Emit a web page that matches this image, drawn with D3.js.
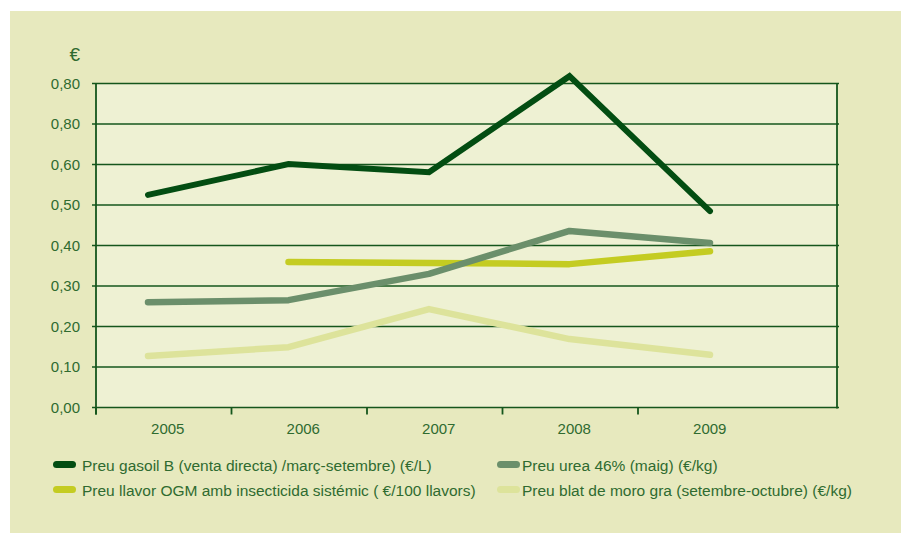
<!DOCTYPE html>
<html>
<head>
<meta charset="utf-8">
<script src="https://cdn.jsdelivr.net/npm/d3@7"></script>
<style>
  body { margin: 0; background: #fff; }
  svg { display: block; font-family: "Liberation Sans", Arial, sans-serif; }
</style>
</head>
<body>
<svg id="chart" width="901" height="533"></svg>
<script>
const years = ["2005", "2006", "2007", "2008", "2009"];
const yTicks = [0, 0.1, 0.2, 0.3, 0.4, 0.5, 0.6, 0.7, 0.8];
// the original repeats "0,80" for the 0.7 gridline
const yTickLabels = ["0,00", "0,10", "0,20", "0,30", "0,40", "0,50", "0,60", "0,80", "0,80"];

const gasoil = [0.525, 0.601, 0.581, 0.818, 0.485];
const urea = [0.260, 0.265, 0.330, 0.436, 0.406];
const llavor = [null, 0.359, 0.357, 0.354, 0.386];
const blat = [0.127, 0.149, 0.243, 0.169, 0.130];

const seriesNames = [
  "Preu gasoil B (venta directa) /març-setembre) (€/L)",
  "Preu urea 46% (maig) (€/kg)",
  "Preu llavor OGM amb insecticida sistémic ( €/100 llavors)",
  "Preu blat de moro gra (setembre-octubre) (€/kg)"
];
const seriesColors = ["#034d12", "#6b8f6b", "#c4cc22", "#dde39b"];
const seriesValues = [gasoil, urea, llavor, blat];

const svg = d3.select("#chart");
const textColor = "#2f6b30";
const gridColor = "#15561c";

// panel background
svg.append("rect").attr("x", 10).attr("y", 11).attr("width", 891).attr("height", 522)
  .attr("fill", "#e7e9be");

const plotL = 96, plotR = 837, plotT = 83.5, plotB = 407.5;

svg.append("rect").attr("x", plotL).attr("y", plotT).attr("width", plotR - plotL).attr("height", plotB - plotT)
  .attr("fill", "#eef1d3");

const y = d3.scaleLinear().domain([0, 0.8]).range([plotB, plotT]);
// category bands for the axis labels / ticks
const xBand = d3.scaleBand().domain(years).range([plotL, plotL + 135.5 * 5]);
// data points sit on their own positions in the original
const xPoint = d3.scalePoint().domain(years).range([148, 710]);

// gridlines
svg.append("g").selectAll("line").data(yTicks).join("line")
  .attr("x1", plotL - 4).attr("x2", plotR + 2)
  .attr("y1", d => y(d)).attr("y2", d => y(d))
  .attr("stroke", gridColor).attr("stroke-width", 1.6);

// frame: left axis + right border
svg.append("line").attr("x1", plotL).attr("x2", plotL).attr("y1", plotT).attr("y2", plotB + 7)
  .attr("stroke", gridColor).attr("stroke-width", 1.8);
svg.append("line").attr("x1", plotR).attr("x2", plotR).attr("y1", plotT).attr("y2", plotB + 1)
  .attr("stroke", gridColor).attr("stroke-width", 1.8);

// y tick labels
svg.append("g").selectAll("text").data(yTicks).join("text")
  .attr("x", 80).attr("y", d => y(d)).attr("dy", "0.36em")
  .attr("text-anchor", "end").attr("fill", textColor).attr("font-size", 15)
  .text((d, i) => yTickLabels[i]);

svg.append("text").attr("x", 80).attr("y", 61).attr("text-anchor", "end")
  .attr("fill", textColor).attr("font-size", 19).attr("font-weight", 300).text("€");

// x axis ticks and labels
svg.append("g").selectAll("line").data(years).join("line")
  .attr("x1", d => xBand(d)).attr("x2", d => xBand(d))
  .attr("y1", plotB).attr("y2", plotB + 7)
  .attr("stroke", gridColor).attr("stroke-width", 1.8);

svg.append("g").selectAll("text").data(years).join("text")
  .attr("x", d => xBand(d) + xBand.bandwidth() / 2 + 4)
  .attr("y", 434).attr("text-anchor", "middle")
  .attr("fill", textColor).attr("font-size", 15).text(d => d);

// lines, drawn back to front
const line = d3.line()
  .defined(d => d.v != null)
  .x(d => xPoint(d.year))
  .y(d => y(d.v));

const order = [3, 2, 1, 0];
order.forEach(i => {
  const pts = years.map((yr, j) => ({ year: yr, v: seriesValues[i][j] }));
  svg.append("path").datum(pts)
    .attr("d", line)
    .attr("fill", "none")
    .attr("stroke", seriesColors[i])
    .attr("stroke-width", i === 0 ? 6 : 6.5)
    .attr("stroke-linecap", "round")
    .attr("stroke-linejoin", i === 0 ? "miter" : "round");
});

// legend
const legendPos = [[53, 465], [497, 465], [53, 490], [497, 490]];
const legend = svg.append("g").selectAll("g").data(seriesNames).join("g")
  .attr("transform", (d, i) => `translate(${legendPos[i][0]},${legendPos[i][1]})`);
legend.append("rect").attr("x", 0).attr("y", -4).attr("width", 23).attr("height", 7)
  .attr("rx", 3.5).attr("fill", (d, i) => seriesColors[i]);
legend.append("text").attr("x", (d, i) => i % 2 === 0 ? 29 : 25).attr("y", 5.5)
  .attr("fill", textColor).attr("font-size", 15.5).text(d => d);
</script>
</body>
</html>
